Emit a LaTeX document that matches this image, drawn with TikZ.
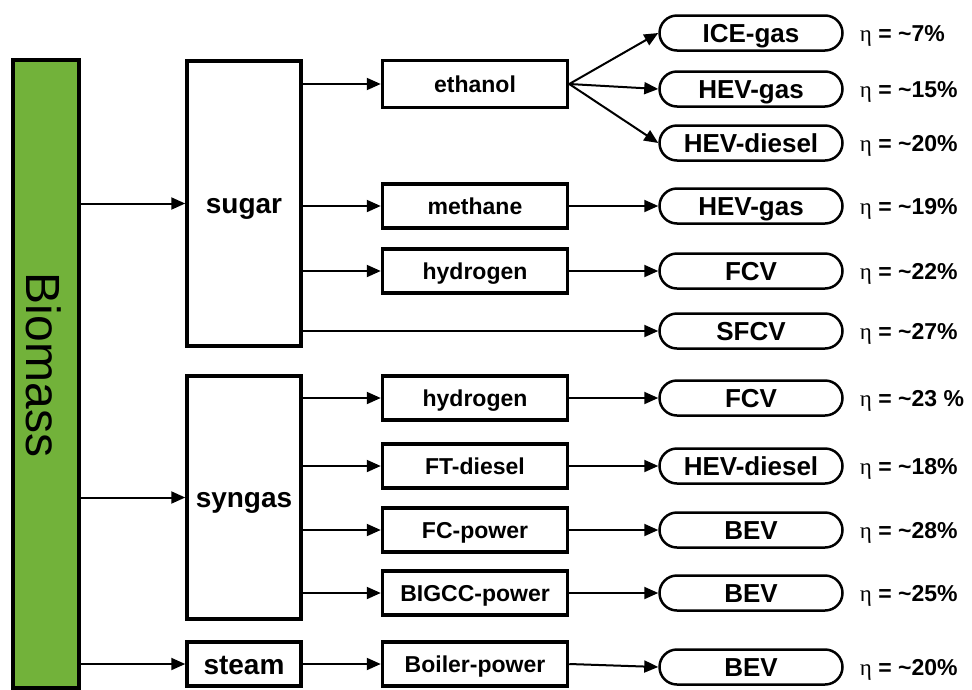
\documentclass[tikz,border=0pt]{standalone}
\usepackage{fontspec}
\setmainfont{Liberation Sans}
\newfontfamily\serif{Liberation Serif}
\usetikzlibrary{arrows.meta,shapes.misc}
\definecolor{biogreen}{RGB}{114,178,58}
\begin{document}
\begin{tikzpicture}[x=1pt,y=-1pt,
  bigbox/.style={draw, line width=3.5pt, minimum width=114pt, inner sep=0pt, text height=20pt, text depth=0pt, font=\bfseries\fontsize{28}{32}\selectfont},
  midbox/.style={draw, line width=3.5pt, minimum width=185pt, minimum height=44pt, inner sep=0pt, text height=16.5pt, text depth=0pt, font=\bfseries\fontsize{23}{27}\selectfont},
  pill/.style={draw, rounded rectangle, line width=2.5pt, minimum width=183pt, minimum height=35pt, inner sep=0pt, text height=18.6pt, text depth=0pt, font=\bfseries\fontsize{26}{30}\selectfont},
  eff/.style={anchor=west, inner sep=0pt, text height=16.5pt, text depth=0pt, font=\bfseries\fontsize{23}{27}\selectfont},
  arr/.style={line width=2pt, -{Triangle[length=14pt,width=12pt]}}
]
\useasboundingbox (0,0) rectangle (972,689);
\fill[white] (0,0) rectangle (972,689);

% Biomass bar
\node[draw, fill=biogreen, line width=3.5pt, minimum width=66pt, minimum height=628pt, inner sep=0pt] (bio) at (46,374) {};
\node[rotate=-90, inner sep=0pt, font=\fontsize{48}{54}\selectfont] (biolabel) at (44,365) {Biomass};

% first stage
\node[bigbox, minimum height=285pt] (sugar) at (244,203.5) {sugar};
\node[bigbox, minimum height=243pt] (syngas) at (244,497.5) {syngas};
\node[bigbox, minimum height=44pt] (steam) at (244,664) {steam};

% second stage
\node[midbox, minimum height=47pt] (eth) at (475,84) {ethanol};
\node[midbox] (meth) at (475,206) {methane};
\node[midbox] (hydA) at (475,271) {hydrogen};
\node[midbox] (hydB) at (475,398) {hydrogen};
\node[midbox] (ft) at (475,466) {FT-diesel};
\node[midbox] (fc) at (475,530) {FC-power};
\node[midbox] (big) at (475,593) {BIGCC-power};
\node[midbox] (boil) at (475,664) {Boiler-power};

% vehicles
\node[pill] (ice) at (751,33) {ICE-gas};
\node[pill] (hevg) at (751,89) {HEV-gas};
\node[pill] (hevd) at (751,143) {HEV-diesel};
\node[pill] (hevgB) at (751,206) {HEV-gas};
\node[pill] (fcvA) at (751,271) {FCV};
\node[pill] (sfcv) at (751,331) {SFCV};
\node[pill] (fcvB) at (751,398) {FCV};
\node[pill] (hevdB) at (751,466) {HEV-diesel};
\node[pill] (bevA) at (751,530) {BEV};
\node[pill] (bevB) at (751,593) {BEV};
\node[pill] (bevC) at (751,667) {BEV};

% efficiencies
\node[eff] (e1) at ([xshift=16pt]ice.east) {{\serif\mdseries η} = \textasciitilde7\%};
\node[eff] (e2) at ([xshift=16pt]hevg.east) {{\serif\mdseries η} = \textasciitilde15\%};
\node[eff] (e3) at ([xshift=16pt]hevd.east) {{\serif\mdseries η} = \textasciitilde20\%};
\node[eff] (e4) at ([xshift=16pt]hevgB.east) {{\serif\mdseries η} = \textasciitilde19\%};
\node[eff] (e5) at ([xshift=16pt]fcvA.east) {{\serif\mdseries η} = \textasciitilde22\%};
\node[eff] (e6) at ([xshift=16pt]sfcv.east) {{\serif\mdseries η} = \textasciitilde27\%};
\node[eff] (e7) at ([xshift=16pt]fcvB.east) {{\serif\mdseries η} = \textasciitilde23 \%};
\node[eff] (e8) at ([xshift=16pt]hevdB.east) {{\serif\mdseries η} = \textasciitilde18\%};
\node[eff] (e9) at ([xshift=16pt]bevA.east) {{\serif\mdseries η} = \textasciitilde28\%};
\node[eff] (e10) at ([xshift=16pt]bevB.east) {{\serif\mdseries η} = \textasciitilde25\%};
\node[eff] (e11) at ([xshift=16pt]bevC.east) {{\serif\mdseries η} = \textasciitilde20\%};

% Biomass to first stage
\draw[arr] (bio.east |- sugar.west) -- (sugar.west);
\draw[arr] (bio.east |- syngas.west) -- (syngas.west);
\draw[arr] (bio.east |- steam.west) -- (steam.west);

% first to second stage
\draw[arr] (sugar.east |- eth.west) -- (eth.west);
\draw[arr] (sugar.east |- meth.west) -- (meth.west);
\draw[arr] (sugar.east |- hydA.west) -- (hydA.west);
\draw[arr] (sugar.east |- sfcv.west) -- (sfcv.west);
\draw[arr] (syngas.east |- hydB.west) -- (hydB.west);
\draw[arr] (syngas.east |- ft.west) -- (ft.west);
\draw[arr] (syngas.east |- fc.west) -- (fc.west);
\draw[arr] (syngas.east |- big.west) -- (big.west);
\draw[arr] (steam.east) -- (boil.west);

% second stage to vehicles
\draw[arr] (eth.east) -- (ice.west);
\draw[arr] (eth.east) -- (hevg.west);
\draw[arr] (eth.east) -- (hevd.west);
\draw[arr] (meth.east) -- (hevgB.west);
\draw[arr] (hydA.east) -- (fcvA.west);
\draw[arr] (hydB.east) -- (fcvB.west);
\draw[arr] (ft.east) -- (hevdB.west);
\draw[arr] (fc.east) -- (bevA.west);
\draw[arr] (big.east) -- (bevB.west);
\draw[arr] (boil.east) -- (bevC.west);
\end{tikzpicture}
\end{document}
